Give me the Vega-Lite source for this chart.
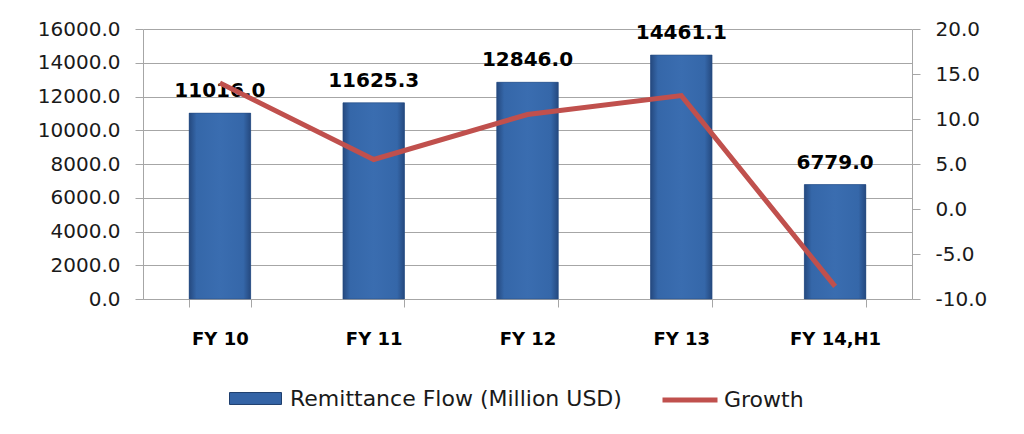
{
  "$schema": "https://vega.github.io/schema/vega-lite/v6.json",
  "width": 769,
  "height": 270,
  "autosize": {"type": "none"},
  "padding": {"left": 143, "top": 29, "right": 112, "bottom": 135},
  "background": "white",
  "config": {"view": {"stroke": null}, "font": "DejaVu Sans"},
  "data": {"values": [
    {"fy": "FY 10", "flow": 11016.0, "growth": 14.0},
    {"fy": "FY 11", "flow": 11625.3, "growth": 5.5},
    {"fy": "FY 12", "flow": 12846.0, "growth": 10.5},
    {"fy": "FY 13", "flow": 14461.1, "growth": 12.6},
    {"fy": "FY 14,H1", "flow": 6779.0, "growth": -8.6}
  ]},
  "encoding": {
    "x": {
      "field": "fy", "type": "nominal", "sort": null,
      "scale": {"paddingInner": 0.6, "paddingOuter": 0.3},
      "axis": {
        "title": null, "labelAngle": 0, "tickBand": "extent",
        "domainColor": "#a6a6a6", "tickColor": "#a6a6a6", "tickSize": 8,
        "labelFontWeight": "bold", "labelFontSize": 18, "labelColor": "#000000",
        "labelPadding": 23
      }
    }
  },
  "layer": [
    {
      "encoding": {
        "y": {
          "field": "flow", "type": "quantitative",
          "scale": {"domain": [0, 16000]},
          "axis": {
            "title": null, "values": [0, 2000, 4000, 6000, 8000, 10000, 12000, 14000, 16000],
            "format": ".1f", "grid": true, "gridColor": "#a6a6a6",
            "domainColor": "#a6a6a6", "tickColor": "#a6a6a6", "tickSize": 8,
            "labelFontSize": 20, "labelColor": "#1a1a1a", "labelPadding": 15
          }
        }
      },
      "layer": [
        {
          "mark": {"type": "bar"},
          "encoding": {
            "fill": {
              "datum": "Remittance Flow (Million USD)", "type": "nominal",
              "scale": {"range": ["#3464a6"]},
              "legend": {
                "title": null, "orient": "none", "legendX": 86, "legendY": 343,
                "symbolType": "M-1,-0.23H1V0.23H-1Z", "symbolSize": 2704,
                "symbolStrokeColor": "#1f3f6e", "symbolStrokeWidth": 1,
                "labelFontSize": 22, "labelColor": "#1a1a1a", "labelOffset": 8, "labelLimit": 500
              }
            }
          }
        },
        {
          "mark": {
            "type": "bar",
            "stroke": "#24487c", "strokeWidth": 0.5,
            "fill": {
              "gradient": "linear", "x1": 0, "y1": 0, "x2": 1, "y2": 0,
              "stops": [
                {"offset": 0, "color": "#25497f"},
                {"offset": 0.12, "color": "#3567a9"},
                {"offset": 0.5, "color": "#3a6db0"},
                {"offset": 0.88, "color": "#3567a9"},
                {"offset": 1, "color": "#25497f"}
              ]
            }
          }
        },
        {
          "mark": {"type": "text", "dy": -22, "fontWeight": "bold", "fontSize": 20, "color": "#000000"},
          "encoding": {"text": {"field": "flow", "type": "quantitative", "format": ".1f"}}
        }
      ]
    },
    {
      "mark": {"type": "line", "strokeWidth": 5},
      "encoding": {
        "y": {
          "field": "growth", "type": "quantitative",
          "scale": {"domain": [-10, 20]},
          "axis": {
            "orient": "right", "title": null,
            "values": [-10, -5, 0, 5, 10, 15, 20], "grid": false,
            "labelExpr": "datum.value < 0 ? '-' + format(-datum.value, '.1f') : format(datum.value, '.1f')",
            "domainColor": "#a6a6a6", "tickColor": "#a6a6a6", "tickSize": 8,
            "labelFontSize": 20, "labelColor": "#1a1a1a", "labelPadding": 15
          }
        },
        "stroke": {
          "datum": "Growth", "type": "nominal",
          "scale": {"range": ["#c0504d"]},
          "legend": {
            "title": null, "orient": "none", "legendX": 517, "legendY": 341,
            "symbolType": "stroke", "symbolSize": 3025, "symbolStrokeWidth": 5,
            "labelFontSize": 22, "labelColor": "#1a1a1a", "labelOffset": 4, "labelLimit": 300
          }
        }
      }
    }
  ],
  "resolve": {"scale": {"y": "independent"}}
}
